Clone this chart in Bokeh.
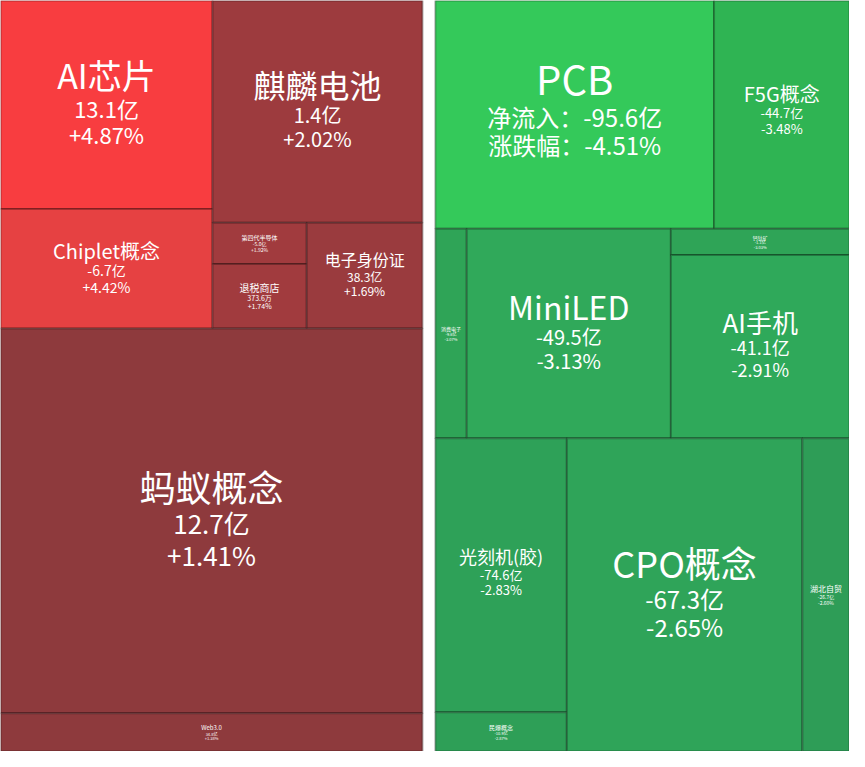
from bokeh.plotting import figure
from bokeh.models import ColumnDataSource, Range1d
from bokeh.core.properties import value
from bokeh.embed import file_html
from bokeh.resources import INLINE

# ---------------- data ----------------
# left panel (inflow sectors)
left_names = ["AI芯片", "Chiplet概念", "麒麟电池", "第四代半导体", "退税商店", "电子身份证", "蚂蚁概念", "Web3.0"]
left_flow = ["13.1亿", "-6.7亿", "1.4亿", "-5.0亿", "373.6万", "38.3亿", "12.7亿", "34.8亿"]
left_pct = ["+4.87%", "+4.42%", "+2.02%", "+1.92%", "+1.74%", "+1.69%", "+1.41%", "+1.38%"]
left_weight = [46008, 26352, 48578, 4032, 6336, 12744, 168990, 16770]

# right panel (outflow sectors)
right_names = ["PCB", "F5G概念", "消费电子", "MiniLED", "钙钛矿", "AI手机", "光刻机(胶)", "民爆概念", "CPO概念", "湖北自贸"]
right_flow = ["-95.6亿", "-44.7亿", "-9.6亿", "-49.5亿", "-1.1亿", "-41.1亿", "-74.6亿", "-10.9亿", "-67.3亿", "-26.7亿"]
right_pct = ["-4.51%", "-3.48%", "-3.07%", "-3.13%", "-3.03%", "-2.91%", "-2.83%", "-2.87%", "-2.65%", "-2.60%"]
right_weight = [66172, 32154, 6848, 44512, 4914, 34034, 37520, 5360, 76800, 15360]

# ---------------- layout structure (split trees: 'v' = stacked rows, 'h' = side by side) ----------------
left_tree = ("v", [("h", [("v", [0, 1]), ("v", [2, ("h", [("v", [3, 4]), 5])])]), 6, 7])
right_tree = ("v", [("h", [0, 1]), ("h", [2, 3, ("v", [4, 5])]), ("h", [("v", [6, 7]), 8, 9])])

left_colors = ["#F83D40", "#E64142", "#9D3B3E", "#A13B3E", "#A13B3E", "#9A3B3E", "#8E3A3D", "#8E3A3D"]
right_colors = ["#34C95A", "#2FB453", "#2FA457", "#30A95A", "#2FA457", "#2FA95A", "#2EA158", "#2E9F57", "#2FA459", "#2E9D57"]

left_fs = [(34, 22), (20, 14), (32, 20), (6, 5), (10, 7), (16, 12), (36, 26), (6, 4)]
right_fs = [(40, 24), (20, 13), (5, 4), (32, 20), (5, 4), (26, 18), (18, 13), (6, 4), (36, 24), (8, 5)]
right_shift = [-8, -6, 0, -4, 0, -4, -4, 0, -4, 0]
left_shift = [-4, -2, -4, 0, 0, -2, -4, 0]


def weight_of(node, w):
    if isinstance(node, int):
        return w[node]
    return sum(weight_of(c, w) for c in node[1])


def layout(node, w, x0, y0, x1, y1, out):
    if isinstance(node, int):
        out[node] = (x0, y0, x1, y1)
        return
    d, kids = node
    tot = sum(weight_of(c, w) for c in kids)
    pos = x0 if d == "h" else y0
    for c in kids:
        frac = weight_of(c, w) / tot
        if d == "h":
            nxt = pos + frac * (x1 - x0)
            layout(c, w, pos, y0, nxt, y1, out)
        else:
            nxt = pos + frac * (y1 - y0)
            layout(c, w, x0, pos, x1, nxt, out)
        pos = nxt


W, H = 865, 767
p = figure(width=849, height=751, x_range=Range1d(0, W), y_range=Range1d(H, 0),
           output_backend="svg", toolbar_location=None, min_border=0)
p.axis.visible = False
p.grid.visible = False
p.outline_line_color = None
p.background_fill_color = "white"
p.border_fill_color = "white"

FONT = "Noto Sans CJK SC"


def draw_panel(names, flows, pcts, weights, tree, colors, fss, shifts, x0, x1, labeled_first=False):
    rects = {}
    layout(tree, weights, x0, 0, x1, H, rects)
    n = len(names)
    src = ColumnDataSource(dict(
        l=[rects[i][0] for i in range(n)], r=[rects[i][2] for i in range(n)],
        t=[rects[i][1] for i in range(n)], b=[rects[i][3] for i in range(n)],
        c=colors))
    p.quad(left="l", right="r", top="t", bottom="b", fill_color="c", source=src,
           line_color="#000000", line_alpha=0.28, line_width=2)
    tx, ty, tt, tf = [], [], [], []
    for i in range(n):
        cx = (rects[i][0] + rects[i][2]) / 2
        cy = (rects[i][1] + rects[i][3]) / 2 + shifts[i]
        fn, fv = fss[i]
        if labeled_first and i == 0:
            lines = [(names[i], fn), ("净流入：" + flows[i], fv), ("涨跌幅：" + pcts[i], fv)]
        else:
            lines = [(names[i], fn), (flows[i], fv), (pcts[i], fv)]
        hs = [s * 1.22 for _, s in lines]
        y = cy - sum(hs) / 2
        for (txt, s), h in zip(lines, hs):
            tx.append(cx)
            ty.append(y + h / 2)
            tt.append(txt)
            tf.append(f"{s}px")
            y += h
    tsrc = ColumnDataSource(dict(x=tx, y=ty, t=tt, f=tf))
    p.text(x="x", y="y", text="t", text_font_size="f", source=tsrc,
           text_align="center", text_baseline="middle", text_color="#FFFFFF",
           text_font=value(FONT))


draw_panel(left_names, left_flow, left_pct, left_weight, left_tree, left_colors, left_fs, left_shift, 0, 430)
draw_panel(right_names, right_flow, right_pct, right_weight, right_tree, right_colors, right_fs, right_shift,
           443, 865, labeled_first=True)

open("out.html", "w").write(file_html(p, INLINE))
